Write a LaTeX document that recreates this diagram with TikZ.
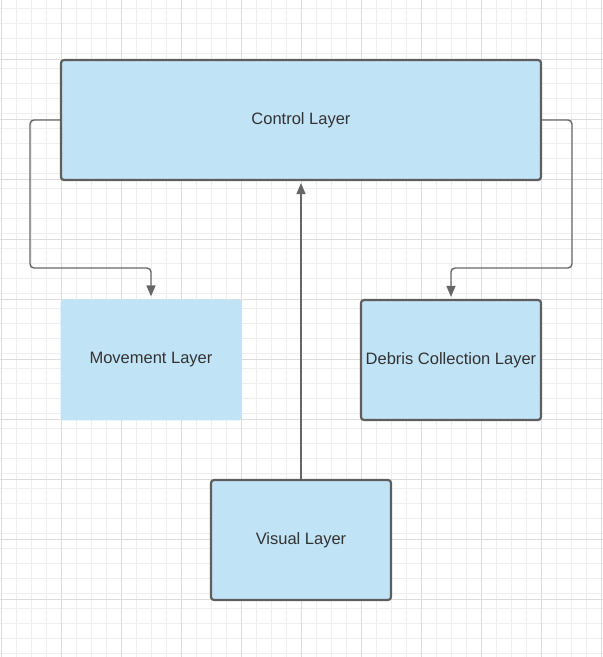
\documentclass[tikz,border=0pt]{standalone}
\usepackage{fontspec}
\setmainfont{Liberation Sans}
\usepackage{tikz}
\usetikzlibrary{arrows.meta,positioning}
\definecolor{layerblue}{HTML}{C1E3F6}
\definecolor{layeredge}{HTML}{5E5E5E}
\definecolor{linkgray}{HTML}{666666}
\definecolor{textgray}{HTML}{333333}
\definecolor{gridminor}{HTML}{EEEEEE}
\definecolor{gridmajor}{HTML}{DCDCDC}

\begin{document}
\begin{tikzpicture}[
    x=1pt, y=1pt,
    layer/.style={rectangle, rounded corners=3pt, fill=layerblue, draw=layeredge, line width=2.2pt, text=textgray, font=\fontsize{16.5}{20}\selectfont, inner sep=1pt},
    plainlayer/.style={layer, draw=none},
    arrow/.style={-{Triangle[length=11pt,width=9pt]}, draw=linkgray, line width=1.4pt, rounded corners=4pt, shorten >=2pt}
]
\useasboundingbox (0,0) rectangle (603,657);
\fill[white] (0,0) rectangle (603,657);

% background grid
\foreach \gx in {1,16,...,601} \draw[gridminor, line width=1pt] (\gx,0) -- (\gx,657);
\foreach \gy in {3,18,...,657} \draw[gridminor, line width=1pt] (0,\gy) -- (603,\gy);
\foreach \gx in {1,61,...,601} \draw[gridmajor, line width=1pt] (\gx,0) -- (\gx,657);
\foreach \gy in {57,117,...,657} \draw[gridmajor, line width=1pt] (0,\gy) -- (603,\gy);

\node[layer, minimum width=480pt, minimum height=120pt] (control) at (301,537) {Control Layer};
\node[plainlayer, minimum width=181pt, minimum height=121pt] (movement) at (151,297) {Movement Layer};
\node[layer, minimum width=180pt, minimum height=120pt] (debris) at (451,297) {Debris Collection Layer};
\node[layer, minimum width=180pt, minimum height=120pt] (visual) at (301,117) {Visual Layer};

\draw[arrow] (control.west) -| (30,389) -| (movement.north);
\draw[arrow] (control.east) -| (572,389) -| (debris.north);
\draw[arrow] (visual.north) -- (control.south);

\end{tikzpicture}
\end{document}
